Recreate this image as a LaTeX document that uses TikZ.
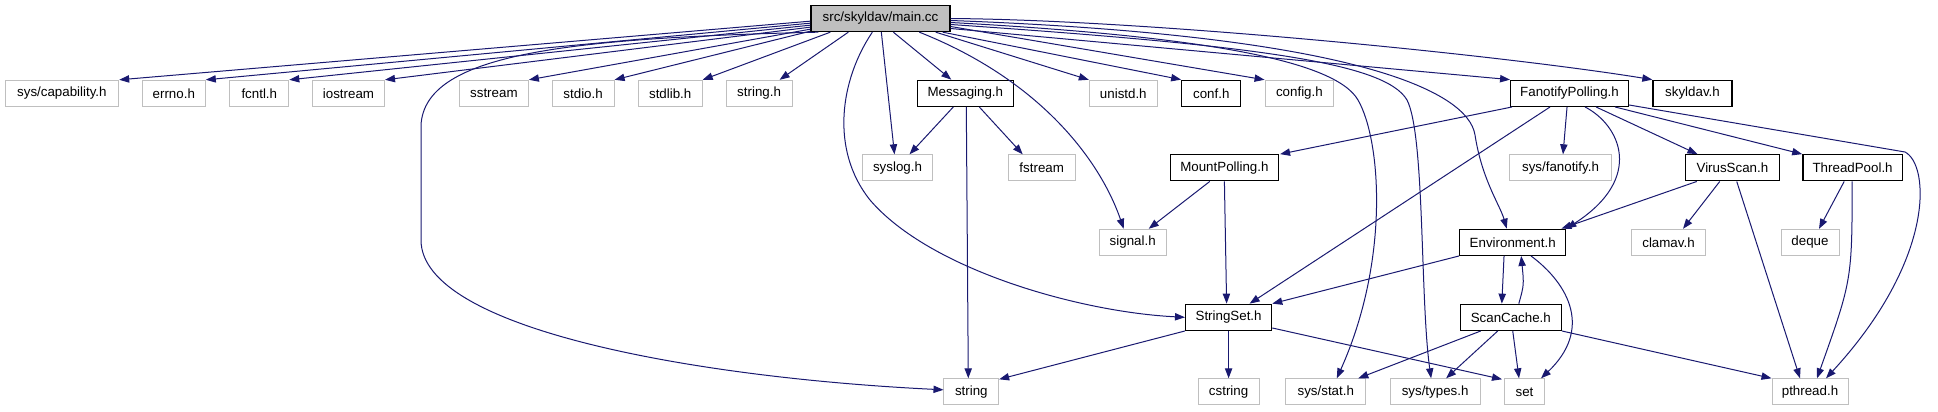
\documentclass[tikz,border=0pt]{standalone}
\usepackage{fontspec}
\setmainfont{Liberation Sans}
\usetikzlibrary{arrows.meta,calc}
\definecolor{navy}{HTML}{191970}
\definecolor{lgray}{HTML}{BFBFBF}
\tikzset{
 nb/.style={rectangle, inner sep=0pt, minimum height=19.5pt, font=\fontsize{10}{12}\selectfont, line width=0.75pt},
 gbox/.style={nb, draw=lgray},
 bbox/.style={nb, draw=black, line width=1pt},
 wd/.style={minimum width=#1*0.75pt},
 edge/.style={draw=navy, line width=0.75pt, -{Triangle[length=7.5pt,width=5.5pt]}},
}
\begin{document}
\begin{tikzpicture}[x=0.75pt,y=-0.75pt]
\useasboundingbox (0,0) rectangle (1938,411);
% row 1
\node[bbox, fill=lgray, wd=139] (main) at (880.5,18.5) {src/skyldav/main.cc};
% row 2
\node[gbox, wd=113.6] (cap) at (61.9,93.3) {sys/capability.h};
\node[gbox, wd=63] (errno) at (173.8,93.3) {errno.h};
\node[gbox, wd=59] (fcntl) at (259.3,93.3) {fcntl.h};
\node[gbox, wd=72] (iostream) at (348.5,93.3) {iostream};
\node[gbox, wd=69] (sstream) at (493.9,93.3) {sstream};
\node[gbox, wd=62] (stdio) at (583.1,93.3) {stdio.h};
\node[gbox, wd=64] (stdlib) at (670.2,93.3) {stdlib.h};
\node[gbox, wd=66] (strh) at (759.1,93.3) {string.h};
\node[bbox, wd=96] (msg) at (965.3,93.3) {Messaging.h};
\node[gbox, wd=68] (unistd) at (1123.3,93.3) {unistd.h};
\node[bbox, wd=59] (conf) at (1211.3,93.3) {conf.h};
\node[gbox, wd=68.7] (config) at (1299.4,93.3) {config.h};
\node[bbox, wd=117.6] (fano) at (1569.5,93.3) {FanotifyPolling.h};
\node[bbox, wd=79] (skyldav) at (1692.5,93.3) {skyldav.h};
% row 3
\node[gbox, wd=70.7] (syslog) at (897.5,167.8) {syslog.h};
\node[gbox, wd=67] (fstream) at (1041.7,167.8) {fstream};
\node[bbox, wd=108] (mount) at (1224.4,167.8) {MountPolling.h};
\node[gbox, wd=102] (fanotify) at (1560.5,167.8) {sys/fanotify.h};
\node[bbox, wd=94] (virus) at (1732.4,167.8) {VirusScan.h};
\node[bbox, wd=99.5] (tpool) at (1852.6,167.8) {ThreadPool.h};
% row 4
\node[gbox, wd=67] (signal) at (1132.7,242.3) {signal.h};
\node[bbox, wd=106] (env) at (1512.7,242.3) {Environment.h};
\node[gbox, wd=74.7] (clamav) at (1668.5,242.3) {clamav.h};
\node[gbox, wd=58] (deque) at (1810,242.3) {deque};
% row 5
\node[bbox, wd=86] (sset) at (1228.6,317.3) {StringSet.h};
\node[bbox, wd=100.8] (scache) at (1510.8,317.3) {ScanCache.h};
% row 6
\node[gbox, wd=54.7] (string) at (971.3,391.8) {string};
\node[gbox, wd=61] (cstring) at (1228.6,391.8) {cstring};
\node[gbox, wd=80] (sysstat) at (1325.8,391.8) {sys/stat.h};
\node[gbox, wd=90] (systypes) at (1435.1,391.8) {sys/types.h};
\node[gbox, wd=40] (set) at (1524.5,391.8) {set};
\node[gbox, wd=76] (pthread) at (1810,391.8) {pthread.h};

% edges from main.cc
\draw[edge] ($(main.south west)+(0,-11)$) -- (cap.north east);
\draw[edge] ($(main.south west)+(0,-9)$) -- (errno.north east);
\draw[edge] ($(main.south west)+(0,-7)$) -- (fcntl.north east);
\draw[edge] ($(main.south west)+(0,-5)$) -- (iostream.north east);
\draw[edge] ($(main.south west)+(0,-3)$) -- (sstream.north east);
\draw[edge] ($(main.south west)+(0,-1)$) -- (stdio.north east);
\draw[edge] ($(main.south west)+(20,0)$) -- (stdlib.north east);
\draw[edge] ($(main.south west)+(38,0)$) -- ($(strh.north east)+(-13,0)$);
\draw[edge] ($(main.south west)+(8,0)$) .. controls (560,38) and (425,55) .. (421,125) -- (421,240) .. controls (421,330) and (700,378) .. ($(string.west)+(0,-2)$);
\draw[edge] ($(main.south west)+(71,0)$) -- ($(syslog.north)+(-3,0)$);
\draw[edge] ($(main.south west)+(83,0)$) -- ($(msg.north)+(-14,0)$);
\draw[edge] ($(main.south west)+(62,0)$) .. controls (840,80) and (830,150) .. (870,200) .. controls (930,270) and (1080,312) .. (sset.west);
\draw[edge] ($(main.south west)+(109,0)$) .. controls (1040,80) and (1100,160) .. ($(signal.north)+(-9,0)$);
\draw[edge] ($(main.south east)+(-15,0)$) -- (unistd.north west);
\draw[edge] ($(main.south east)+(-8,0)$) -- (conf.north west);
\draw[edge] ($(main.east)+(0,8)$) -- (config.north west);
\draw[edge] ($(main.east)+(0,10)$) -- (fano.north west);
\draw[edge] (main.east) .. controls (1150,20) and (1500,55) .. (skyldav.north west);
\draw[edge] ($(main.east)+(0,2)$) .. controls (1350,35) and (1468,90) .. (1475,135) .. controls (1482,180) and (1500,205) .. ($(env.north)+(-6,0)$);
\draw[edge] ($(main.east)+(0,4)$) .. controls (1200,36) and (1335,60) .. (1358,100) .. controls (1381,140) and (1390,260) .. ($(sysstat.north)+(11,0)$);
\draw[edge] ($(main.east)+(0,6)$) .. controls (1250,45) and (1385,62) .. (1407,100) .. controls (1425,135) and (1420,300) .. ($(systypes.north)+(-4,0)$);
% Messaging.h
\draw[edge] ($(msg.south)+(-12,0)$) -- ($(syslog.north)+(12,0)$);
\draw[edge] ($(msg.south)+(1,0)$) -- ($(string.north)+(-3,0)$);
\draw[edge] ($(msg.south)+(14,0)$) -- ($(fstream.north)+(-19,0)$);
% FanotifyPolling.h
\draw[edge] ($(fano.south west)+(2,0)$) -- ($(mount.north east)+(1,0)$);
\draw[edge] ($(fano.south west)+(40,0)$) -- ($(sset.north)+(21,0)$);
\draw[edge] ($(fano.south west)+(57,0)$) -- ($(fanotify.north)+(2.5,0)$);
\draw[edge] ($(fano.south west)+(75,0)$) .. controls (1620,125) and (1645,178) .. (env.north east);
\draw[edge] ($(fano.south west)+(86,0)$) -- ($(virus.north)+(-35,0)$);
\draw[edge] ($(fano.south west)+(105,0)$) -- (tpool.north west);
\draw[edge] ($(fano.south east)+(0,-2)$) -- (1905,152) .. controls (1930,165) and (1935,260) .. ($(pthread.north)+(16,0)$);
% VirusScan.h
\draw[edge] ($(virus.south west)+(12,0)$) -- ($(env.north east)+(-5,0)$);
\draw[edge] ($(virus.south west)+(35,0)$) -- ($(clamav.north)+(14.5,0)$);
\draw[edge] ($(virus.south west)+(52,0)$) -- ($(pthread.north)+(-10,0)$);
% ThreadPool.h
\draw[edge] ($(tpool.south west)+(42,0)$) -- ($(deque.north)+(9,0)$);
\draw[edge] ($(tpool.south west)+(50,0)$) .. controls (1852,280) .. ($(pthread.north)+(7,0)$);
% MountPolling.h
\draw[edge] ($(mount.south west)+(40,0)$) -- ($(signal.north)+(16,0)$);
\draw[edge] (mount.south) -- ($(sset.north)+(-2,0)$);
% Environment.h
\draw[edge] (env.south west) -- (sset.north east);
\draw[edge] ($(env.south west)+(45,0)$) -- ($(scache.north)+(-9,0)$);
\draw[edge] ($(env.south west)+(72,0)$) .. controls (1570,285) and (1592,330) .. ($(set.north east)+(-4,0)$);
% ScanCache.h
\draw[edge] ($(scache.north)+(8,0)$) .. controls (1524,285) .. ($(env.south)+(8.5,0)$);
\draw[edge] ($(scache.south west)+(21,0)$) -- ($(sysstat.north east)+(-8,0)$);
\draw[edge] ($(scache.south west)+(38,0)$) -- ($(systypes.north)+(11,0)$);
\draw[edge] ($(scache.south west)+(53,0)$) -- ($(set.north)+(-5.5,0)$);
\draw[edge] (scache.south east) -- (pthread.north west);
% StringSet.h
\draw[edge] (sset.south west) -- ($(string.north east)+(0,1)$);
\draw[edge] (sset.south) -- (cstring.north);
\draw[edge] ($(sset.south east)+(0,-3)$) -- ($(set.north west)+(-2,1)$);
\end{tikzpicture}
\end{document}
